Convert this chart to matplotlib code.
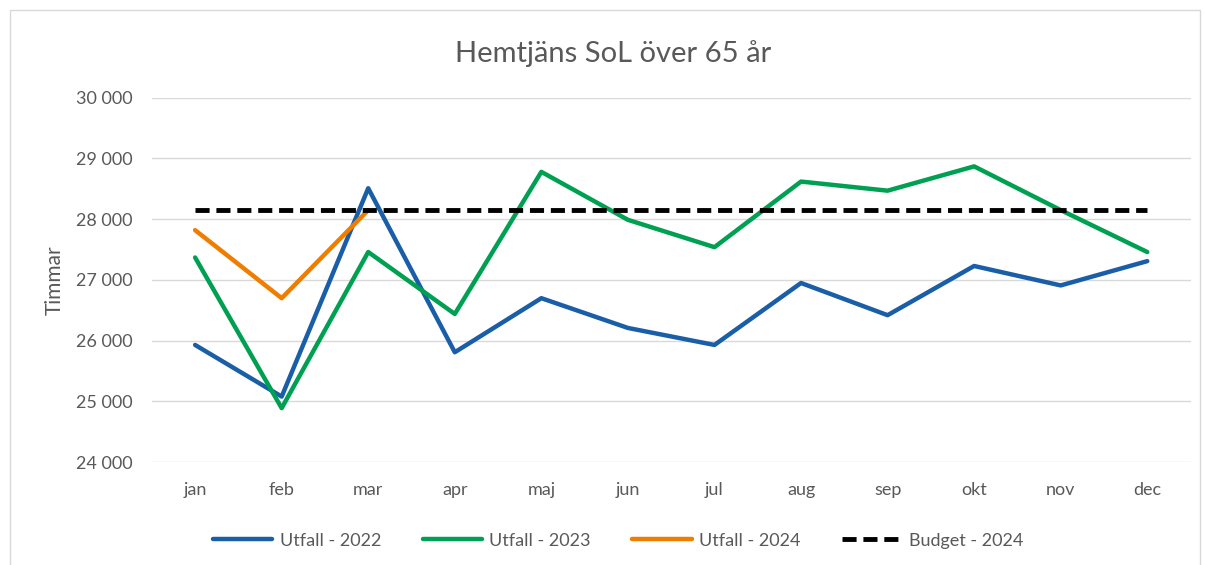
import numpy as np
import matplotlib.pyplot as plt
from matplotlib.patches import Rectangle

months = ["jan", "feb", "mar", "apr", "maj", "jun", "jul", "aug", "sep", "okt", "nov", "dec"]
utfall_2022 = [25930, 25080, 28510, 25810, 26700, 26210, 25930, 26950, 26420, 27230, 26910, 27310]
utfall_2023 = [27370, 24890, 27460, 26440, 28780, 27990, 27540, 28620, 28470, 28870, 28150, 27460]
utfall_2024 = [27820, 26700, 28150]
budget_2024 = [28160] * 12
yticks = [24000, 25000, 26000, 27000, 28000, 29000, 30000]


def fmt(v):
    return f"{v:,}".replace(",", " ")


def main():
    plt.rcParams["font.family"] = ["Lato", "DejaVu Sans"]
    grey = "#595959"

    fig = plt.figure(figsize=(12.05, 5.65), dpi=100)
    ax = fig.add_axes([0.126, 0.182, 0.862, 0.645])
    fig.patches.append(Rectangle((0.008, -0.01), 0.988, 0.992, transform=fig.transFigure,
                                 fill=False, edgecolor="#d9d9d9", linewidth=1))

    x = np.arange(len(months))
    ax.plot(x, utfall_2022, color="#1a5ea8", lw=3.2, label="Utfall - 2022", solid_capstyle="round")
    ax.plot(x, utfall_2023, color="#00a052", lw=3.2, label="Utfall - 2023", solid_capstyle="round")
    ax.plot(x[:len(utfall_2024)], utfall_2024, color="#ef7d00", lw=3.2, label="Utfall - 2024",
            solid_capstyle="round")
    ax.plot(x, budget_2024, color="black", lw=3.5, linestyle=(0, (2.9, 1.4)), label="Budget - 2024")

    ax.set_xlim(-0.5, 11.5)
    ax.set_ylim(24000, 30000)
    ax.set_xticks(x)
    ax.set_xticklabels(months)
    ax.set_yticks(yticks)
    ax.set_yticklabels([fmt(v) for v in yticks])
    ax.tick_params(axis="both", length=0, labelsize=13, colors=grey, pad=14)
    ax.tick_params(axis="x", pad=14)
    ax.grid(axis="y", color="#d9d9d9", lw=1)
    ax.set_axisbelow(True)
    for s in ax.spines.values():
        s.set_visible(False)

    ax.set_ylabel("Timmar", fontsize=15, color=grey, labelpad=8)
    fig.suptitle("Hemtjäns SoL över 65 år", x=0.509, y=0.93, fontsize=21, color=grey)

    fig.legend(loc="lower center", bbox_to_anchor=(0.513, 0.0), ncol=4, frameon=False,
               fontsize=13, labelcolor=grey, handlelength=3.3, columnspacing=2.3,
               handletextpad=0.4)

    fig.savefig("out.png", dpi=100)


if __name__ == "__main__":
    main()
